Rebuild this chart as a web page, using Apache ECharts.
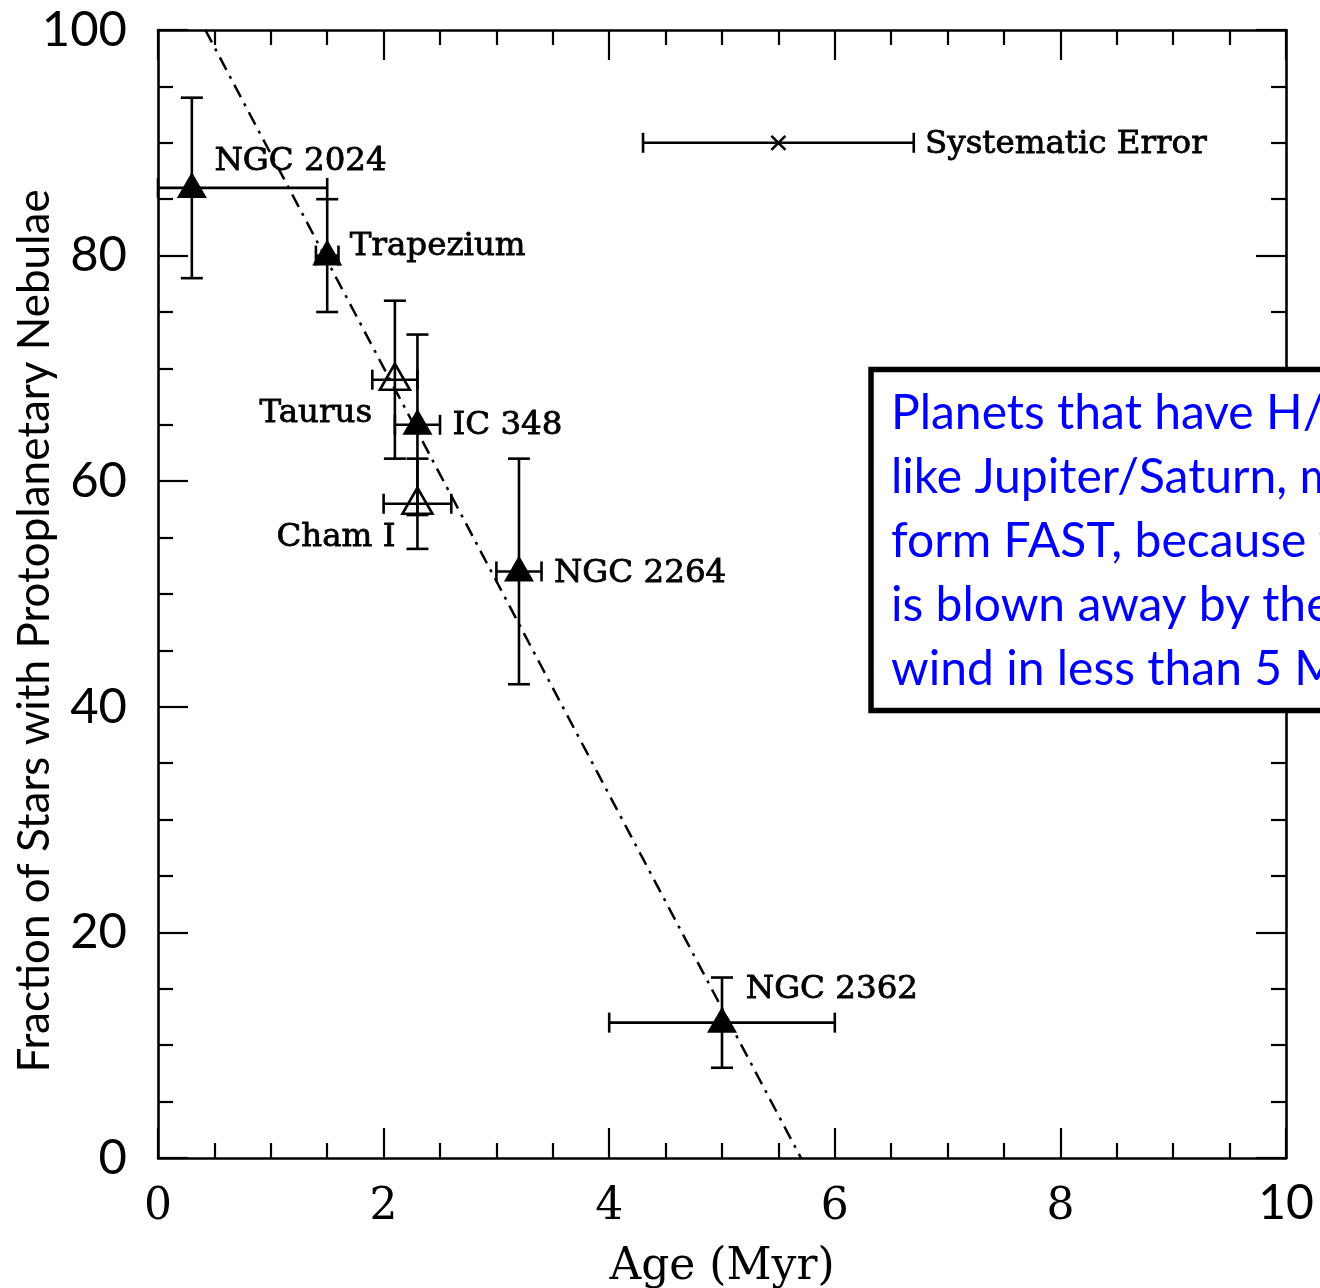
<!DOCTYPE html>
<html>
<head>
<meta charset="utf-8">
<script src="https://cdn.jsdelivr.net/npm/echarts@6/dist/echarts.min.js"></script>
<style>
  html, body { margin: 0; padding: 0; background: #fff; }
  #chart { width: 1320px; height: 1288px; }
</style>
</head>
<body>
<div id="chart"></div>
<script>
// Disk fraction vs. cluster age
const clusterNames = ['NGC 2024', 'Trapezium', 'Taurus', 'IC 348', 'Cham I', 'NGC 2264', 'NGC 2362'];
const clusterAge   = [0.3, 1.5, 2.1, 2.3, 2.3, 3.2, 5.0];
const ageLow       = [0.0, 1.4, 1.9, 2.1, 2.0, 3.0, 4.0];
const ageHigh      = [1.5, 1.6, 2.3, 2.5, 2.6, 3.4, 6.0];
const diskFraction = [86, 80, 69, 65, 58, 52, 12];
const fracLow      = [78, 75, 62, 57, 54, 42, 8];
const fracHigh     = [94, 85, 76, 73, 62, 62, 16];
const isFilled     = [true, true, false, true, false, true, true];

// label anchors (age, fraction) for the cluster names
const labelAge     = [0.50, 1.70, 0.90, 2.61, 1.05, 3.51, 5.21];
const labelFrac    = [88.3, 80.8, 66.0, 64.9, 55.0, 51.8, 14.9];

// systematic age uncertainty
const sysAge = [5.5];
const sysAgeLow = [4.3];
const sysAgeHigh = [6.7];
const sysFrac = [90];
const sysLabel = ['Systematic Error'];
const sysLabelAge = [6.80];
const sysLabelFrac = [89.8];

// linear fit (age, fraction)
const fitAge  = [0.42, 5.70];
const fitFrac = [100, 0];

const xTicks = { min: 0, max: 10, interval: 2 };
const yTicks = { min: 0, max: 100, interval: 20 };

const yTitle = 'Fraction of Stars with Protoplanetary Nebulae';
const noteLines = [
  'Planets that have H/He atmospheres,',
  'like Jupiter/Saturn, must',
  'form FAST, because the gas',
  'is blown away by the stellar',
  'wind in less than 5 Myr.'
];

const INK = '#000';
const serif = 'DejaVu Serif';
const sans = 'Lato';
const LW = 2.6;

function seg(x1, y1, x2, y2) {
  return { type: 'line', shape: { x1, y1, x2, y2 }, style: { stroke: INK, lineWidth: LW } };
}

function errorBarItem(params, api) {
  const x = api.value(0), y = api.value(1);
  const c = api.coord([x, y]);
  const xl = api.coord([api.value(2), y]);
  const xh = api.coord([api.value(3), y]);
  const yl = api.coord([x, api.value(4)]);
  const yh = api.coord([x, api.value(5)]);
  const cy = 11, cx = 10;
  return {
    type: 'group',
    children: [
      seg(c[0], yl[1], c[0], yh[1]),
      seg(c[0] - cy, yl[1], c[0] + cy, yl[1]),
      seg(c[0] - cy, yh[1], c[0] + cy, yh[1]),
      seg(xl[0], c[1], xh[0], c[1]),
      seg(xl[0], c[1] - cx, xl[0], c[1] + cx),
      seg(xh[0], c[1] - cx, xh[0], c[1] + cx)
    ]
  };
}

function sysItem(params, api) {
  const y = api.value(1);
  const c = api.coord([api.value(0), y]);
  const xl = api.coord([api.value(2), y]);
  const xh = api.coord([api.value(3), y]);
  const h = 7;
  return {
    type: 'group',
    children: [
      seg(xl[0], c[1], xh[0], c[1]),
      seg(xl[0], c[1] - 10, xl[0], c[1] + 10),
      seg(xh[0], c[1] - 10, xh[0], c[1] + 10),
      seg(c[0] - h, c[1] - h, c[0] + h, c[1] + h),
      seg(c[0] - h, c[1] + h, c[0] + h, c[1] - h)
    ]
  };
}

const errData = clusterAge.map((a, i) => [a, diskFraction[i], ageLow[i], ageHigh[i], fracLow[i], fracHigh[i]]);
const filledPts = [], openPts = [];
clusterAge.forEach((a, i) => (isFilled[i] ? filledPts : openPts).push([a, diskFraction[i]]));
const labelData = clusterNames.map((n, i) => ({ value: [labelAge[i], labelFrac[i]], name: n }))
  .concat(sysLabel.map((n, i) => ({ value: [sysLabelAge[i], sysLabelFrac[i]], name: n })));

const axisLineStyle = { color: INK, width: 2.6 };
function xAxisCfg(pos, showLabel) {
  return {
    type: 'value', position: pos, min: xTicks.min, max: xTicks.max, interval: xTicks.interval,
    axisLine: { show: true, onZero: false, lineStyle: axisLineStyle },
    axisTick: { show: true, inside: true, length: 30, lineStyle: { color: INK, width: 2.2 } },
    minorTick: { show: true, splitNumber: 4, length: 15, lineStyle: { color: INK, width: 2.2 } },
    splitLine: { show: false },
    axisLabel: {
      show: showLabel, margin: 28, color: INK, fontFamily: serif, fontSize: 44,
      formatter: v => (v === 10 ? '{s|10}' : String(v)),
      rich: { s: { fontFamily: sans, fontSize: 48, color: INK, lineHeight: 36 } }
    }
  };
}
function yAxisCfg(pos, showLabel) {
  return {
    type: 'value', position: pos, min: yTicks.min, max: yTicks.max, interval: yTicks.interval,
    axisLine: { show: true, onZero: false, lineStyle: axisLineStyle },
    axisTick: { show: true, inside: true, length: 30, lineStyle: { color: INK, width: 2.2 } },
    minorTick: { show: true, splitNumber: 4, length: 15, lineStyle: { color: INK, width: 2.2 } },
    splitLine: { show: false },
    axisLabel: { show: showLabel, margin: 31, color: INK, fontFamily: sans, fontSize: 49 }
  };
}

const xMain = xAxisCfg('bottom', true);
xMain.name = 'Age (Myr)';
xMain.nameLocation = 'middle';
xMain.nameGap = 88;
xMain.nameTextStyle = { fontFamily: serif, fontSize: 44, color: INK };

const chart = echarts.init(document.getElementById('chart'), null, { renderer: 'canvas' });
chart.setOption({
  backgroundColor: '#fff',
  animation: false,
  grid: { left: 158, top: 30, width: 1128, height: 1128, containLabel: false, outerBoundsMode: 'none' },
  xAxis: [xMain, xAxisCfg('top', false)],
  yAxis: [yAxisCfg('left', true), yAxisCfg('right', false)],
  series: [
    {
      type: 'line', data: fitAge.map((a, i) => [a, fitFrac[i]]), symbol: 'none', z: 1,
      lineStyle: { color: INK, width: 2.5, type: [14, 7, 3, 7] }
    },
    {
      type: 'custom', data: errData, renderItem: errorBarItem, z: 2,
      encode: { x: [0, 2, 3], y: [1, 4, 5] }
    },
    {
      type: 'custom', data: sysAge.map((a, i) => [a, sysFrac[i], sysAgeLow[i], sysAgeHigh[i]]),
      renderItem: sysItem, z: 2, encode: { x: [0, 2, 3], y: [1] }
    },
    {
      type: 'scatter', data: filledPts, symbol: 'triangle', symbolSize: [30, 26], symbolOffset: [0, -3], z: 3,
      itemStyle: { color: INK, opacity: 1 }
    },
    {
      type: 'scatter', data: openPts, symbol: 'triangle', symbolSize: [30, 26], symbolOffset: [0, -3], z: 3,
      itemStyle: { color: 'rgba(255,255,255,0)', borderColor: INK, borderWidth: LW, opacity: 1 }
    },
    {
      type: 'scatter', data: labelData, symbolSize: 0, z: 4, silent: true,
      itemStyle: { opacity: 1 },
      label: {
        show: true, position: 'right', distance: 0, formatter: p => p.name,
        fontFamily: serif, fontSize: 32.5, color: INK, opacity: 1,
        textBorderColor: INK, textBorderWidth: 0.8
      }
    }
  ],
  graphic: [
    {
      type: 'text', x: 35, y: 631, rotation: Math.PI / 2, z: 100,
      style: { text: yTitle, fill: INK, font: '44px Lato', align: 'center', verticalAlign: 'middle' }
    },
    {
      type: 'group', x: 871, y: 369.5, z: 100, zlevel: 1,
      children: [
        { type: 'rect', z: 100, zlevel: 1, shape: { x: 0, y: 0, width: 600, height: 341 },
          style: { fill: '#fff', stroke: INK, lineWidth: 5.5 } },
        { type: 'text', z: 101, zlevel: 1, x: 20, y: 12,
          style: { text: noteLines.join('\n'), fill: '#0000ff', font: '48px Lato', lineHeight: 64 } }
      ]
    }
  ]
});
</script>
</body>
</html>
